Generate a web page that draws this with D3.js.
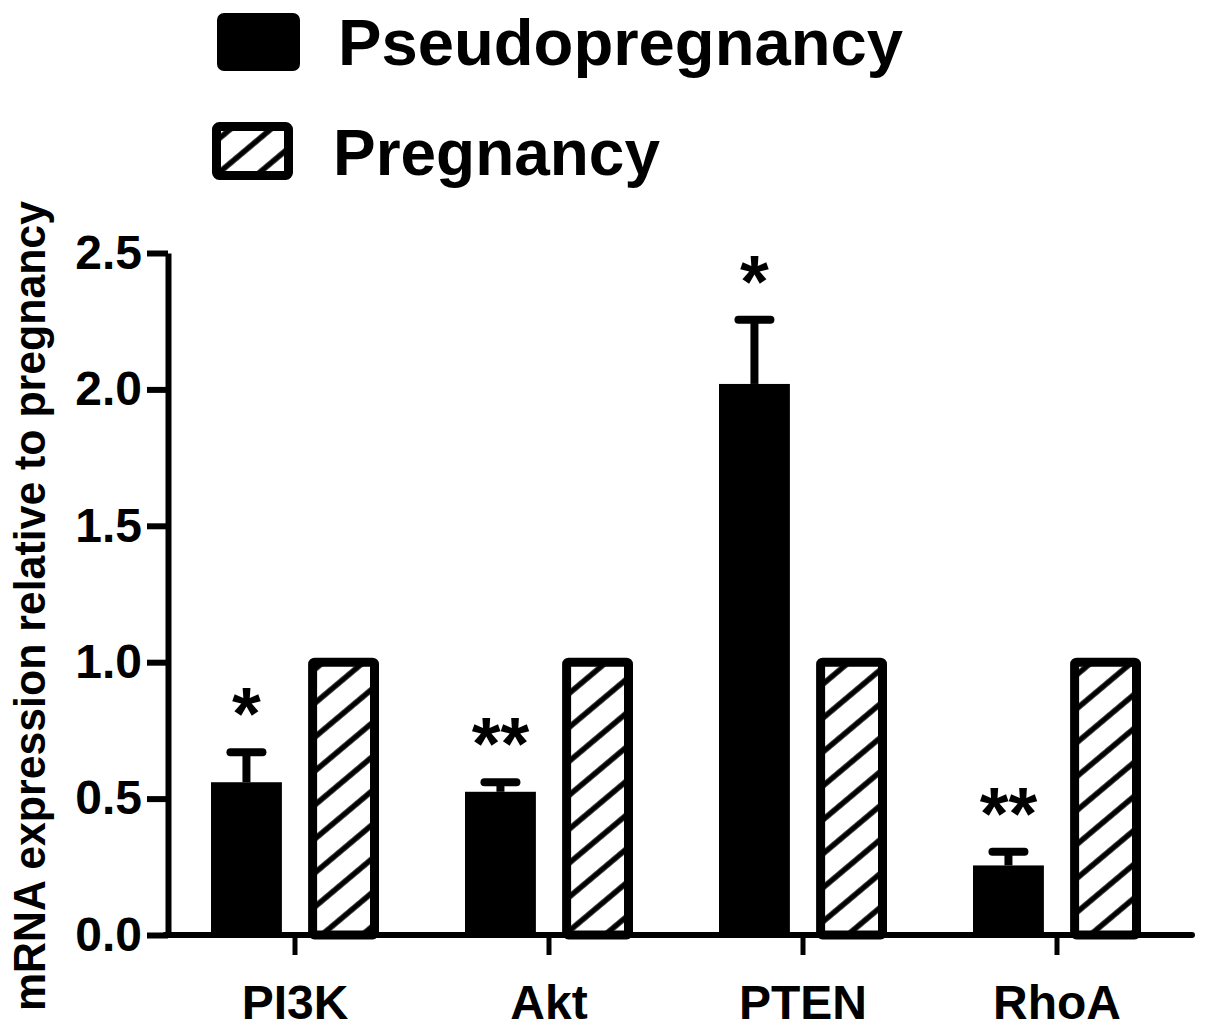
<!DOCTYPE html>
<html>
<head>
<meta charset="utf-8">
<script src="https://cdn.jsdelivr.net/npm/d3@7"></script>
<style>
  body { margin: 0; background: #fff; }
  text { font-family: "Liberation Sans", Arial, sans-serif; font-weight: bold; fill: #000; }
</style>
</head>
<body>
<div id="chart"></div>
<script>
// values
const categories = ["PI3K", "Akt", "PTEN", "RhoA"];
const series = ["Pseudopregnancy", "Pregnancy"];
const pseudoMean = [0.56, 0.525, 2.02, 0.255];
const pseudoSem = [0.11, 0.035, 0.235, 0.05];
const pregMean = [1, 1, 1, 1];
const stars = ["*", "**", "*", "**"];
const yTicks = [0, 0.5, 1.0, 1.5, 2.0, 2.5];

const svgWidth = 1205;
const svgHeight = 1031;

const svg = d3.select("#chart")
    .append("svg")
    .attr("width", svgWidth)
    .attr("height", svgHeight);

// diagonal hatch for the Pregnancy bars
const defs = svg.append("defs");
defs.append("pattern")
    .attr("id", "hatch")
    .attr("patternUnits", "userSpaceOnUse")
    .attr("width", 10)
    .attr("height", 26)
    .attr("patternTransform", "rotate(-40)")
  .append("line")
    .attr("x1", -2).attr("x2", 12)
    .attr("y1", 13).attr("y2", 13)
    .attr("stroke", "#000")
    .attr("stroke-width", 5.5);

const scaleX = d3.scaleBand()
    .domain(categories)
    .range([168, 1184])
    .padding(0);

const scaleSeries = d3.scaleBand()
    .domain(series)
    .range([-84, 84])
    .paddingInner(0.27);

const scaleY = d3.scaleLinear()
    .domain([0, 2.5])
    .range([935, 253]);

const bw = scaleSeries.bandwidth();
const center = c => scaleX(c) + scaleX.bandwidth() / 2;

// error bars (drawn first so the stem sits behind the bar)
const err = svg.append("g");
categories.forEach((c, i) => {
    const cx = center(c) + scaleSeries("Pseudopregnancy") + bw / 2;
    const top = scaleY(pseudoMean[i] + pseudoSem[i]);
    err.append("line")
        .attr("x1", cx).attr("x2", cx)
        .attr("y1", scaleY(pseudoMean[i])).attr("y2", top)
        .attr("stroke", "#000").attr("stroke-width", 8);
    err.append("line")
        .attr("x1", cx - 16).attr("x2", cx + 16)
        .attr("y1", top).attr("y2", top)
        .attr("stroke", "#000").attr("stroke-width", 8)
        .attr("stroke-linecap", "round");
    svg.append("text")
        .attr("x", cx)
        .attr("y", top - 13)
        .attr("text-anchor", "middle")
        .attr("font-size", "74px")
        .text(stars[i]);
});

// Pseudopregnancy bars
svg.append("g").selectAll("rect")
    .data(categories)
    .enter()
    .append("rect")
    .attr("x", c => center(c) + scaleSeries("Pseudopregnancy"))
    .attr("y", (c, i) => scaleY(pseudoMean[i]))
    .attr("width", bw)
    .attr("height", (c, i) => scaleY(0) - scaleY(pseudoMean[i]))
    .attr("fill", "#000");

// Pregnancy bars
const sw = 9;
svg.append("g").selectAll("rect")
    .data(categories)
    .enter()
    .append("rect")
    .attr("x", c => center(c) + scaleSeries("Pregnancy") + sw / 2)
    .attr("y", (c, i) => scaleY(pregMean[i]))
    .attr("width", bw - sw)
    .attr("height", (c, i) => scaleY(0) - scaleY(pregMean[i]))
    .attr("rx", 2)
    .attr("fill", "url(#hatch)")
    .attr("stroke", "#000")
    .attr("stroke-width", sw);

// y axis
const yAxis = svg.append("g")
    .attr("transform", "translate(168,0)")
    .call(d3.axisLeft(scaleY)
        .tickValues(yTicks)
        .tickFormat(d3.format(".1f"))
        .tickSize(21)
        .tickSizeOuter(0)
        .tickPadding(5));
yAxis.select(".domain").attr("stroke-width", 6);
yAxis.selectAll(".tick line").attr("stroke-width", 6);
yAxis.selectAll(".tick text")
    .attr("font-size", "48px")
    .attr("font-family", "Liberation Sans, Arial, sans-serif")
    .attr("font-weight", "bold");

// x axis
const xAxis = svg.append("g")
    .attr("transform", `translate(0,${scaleY(0)})`)
    .call(d3.axisBottom(scaleX)
        .tickSize(20)
        .tickSizeOuter(0)
        .tickPadding(30));
xAxis.select(".domain").remove();
xAxis.append("line")
    .attr("x1", 165).attr("x2", scaleX.range()[1] + 8)
    .attr("stroke", "#000").attr("stroke-width", 6)
    .attr("stroke-linecap", "round");
xAxis.selectAll(".tick line").attr("stroke-width", 5);
xAxis.selectAll(".tick text")
    .attr("font-size", "48px")
    .attr("font-family", "Liberation Sans, Arial, sans-serif")
    .attr("font-weight", "bold");

// y title
svg.append("text")
    .attr("transform", "translate(45,606) rotate(-90)")
    .attr("text-anchor", "middle")
    .attr("font-size", "44px")
    .attr("textLength", 810)
    .attr("lengthAdjust", "spacingAndGlyphs")
    .text("mRNA expression relative to pregnancy");

// legend
const legend = svg.append("g");
legend.append("rect")
    .attr("x", 217).attr("y", 13)
    .attr("width", 83).attr("height", 58)
    .attr("rx", 7)
    .attr("fill", "#000");
legend.append("rect")
    .attr("x", 216.5).attr("y", 126.5)
    .attr("width", 72).attr("height", 49)
    .attr("rx", 3)
    .attr("fill", "url(#hatch)")
    .attr("stroke", "#000")
    .attr("stroke-width", sw);
legend.append("text")
    .attr("x", 338).attr("y", 65)
    .attr("font-size", "64px")
    .attr("textLength", 565)
    .attr("lengthAdjust", "spacingAndGlyphs")
    .text(series[0]);
legend.append("text")
    .attr("x", 333).attr("y", 175)
    .attr("font-size", "64px")
    .attr("textLength", 327)
    .attr("lengthAdjust", "spacingAndGlyphs")
    .text(series[1]);
</script>
</body>
</html>
